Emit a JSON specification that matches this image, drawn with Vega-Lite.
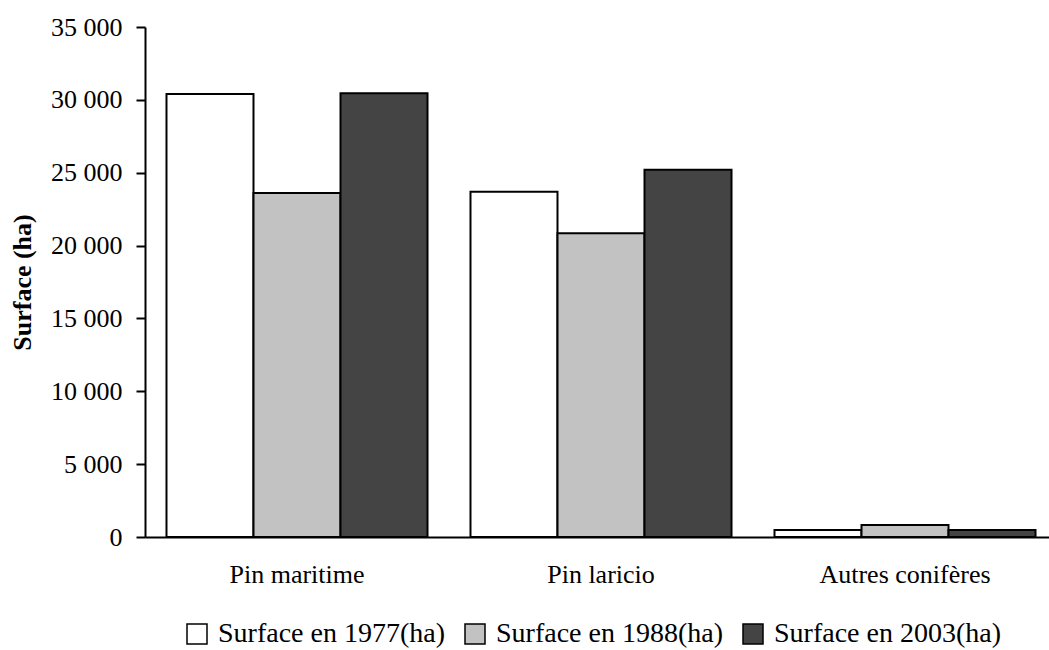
{
  "$schema": "https://vega.github.io/schema/vega-lite/v6.json",
  "width": 904,
  "height": 510,
  "autosize": {"type": "none"},
  "padding": {"left": 145, "top": 27, "right": 0, "bottom": 113},
  "background": "white",
  "config": {
    "view": {"stroke": null},
    "font": "Liberation Serif",
    "axis": {"labelFont": "Liberation Serif", "titleFont": "Liberation Serif", "labelColor": "black", "titleColor": "black", "domainColor": "black", "tickColor": "black"},
    "legend": {"labelFont": "Liberation Serif"}
  },
  "data": {
    "values": [
      {"espece": "Pin maritime", "serie": "Surface en 1977(ha)", "surface": 30400},
      {"espece": "Pin maritime", "serie": "Surface en 1988(ha)", "surface": 23600},
      {"espece": "Pin maritime", "serie": "Surface en 2003(ha)", "surface": 30450},
      {"espece": "Pin laricio", "serie": "Surface en 1977(ha)", "surface": 23700},
      {"espece": "Pin laricio", "serie": "Surface en 1988(ha)", "surface": 20850},
      {"espece": "Pin laricio", "serie": "Surface en 2003(ha)", "surface": 25200},
      {"espece": "Autres conifères", "serie": "Surface en 1977(ha)", "surface": 480},
      {"espece": "Autres conifères", "serie": "Surface en 1988(ha)", "surface": 820},
      {"espece": "Autres conifères", "serie": "Surface en 2003(ha)", "surface": 480}
    ]
  },
  "mark": {"type": "bar", "stroke": "black", "strokeWidth": 2},
  "encoding": {
    "x": {
      "field": "espece",
      "type": "nominal",
      "sort": ["Pin maritime", "Pin laricio", "Autres conifères"],
      "scale": {"range": [0, 912], "paddingInner": 0.1414, "paddingOuter": 0.0707},
      "axis": {"title": null, "labelAngle": 0, "labelFontSize": 26, "labelPadding": 24, "ticks": false, "domainWidth": 2}
    },
    "xOffset": {
      "field": "serie",
      "type": "nominal",
      "scale": {"paddingInner": 0, "paddingOuter": 0}
    },
    "y": {
      "field": "surface",
      "type": "quantitative",
      "scale": {"domain": [0, 35000]},
      "axis": {
        "title": "Surface (ha)",
        "titleFontSize": 26,
        "titleFontWeight": "bold",
        "titlePadding": 15,
        "labelFontSize": 26,
        "labelPadding": 14,
        "labelOverlap": false,
        "values": [0, 5000, 10000, 15000, 20000, 25000, 30000, 35000],
        "labelExpr": "replace(format(datum.value, ','), ',', ' ')",
        "grid": false,
        "domainWidth": 2,
        "tickWidth": 2,
        "tickSize": 9
      }
    },
    "fill": {
      "field": "serie",
      "type": "nominal",
      "scale": {"domain": ["Surface en 1977(ha)", "Surface en 1988(ha)", "Surface en 2003(ha)"], "range": ["#ffffff", "#c2c2c2", "#444444"]},
      "legend": {
        "title": null,
        "orient": "none",
        "direction": "horizontal",
        "legendX": 38,
        "legendY": 593,
        "symbolType": "square",
        "symbolSize": 400,
        "symbolStrokeColor": "black",
        "symbolStrokeWidth": 1.5,
        "labelFontSize": 28,
        "labelLimit": 400,
        "labelColor": "black",
        "labelOffset": 7,
        "columnPadding": 15
      }
    }
  }
}
